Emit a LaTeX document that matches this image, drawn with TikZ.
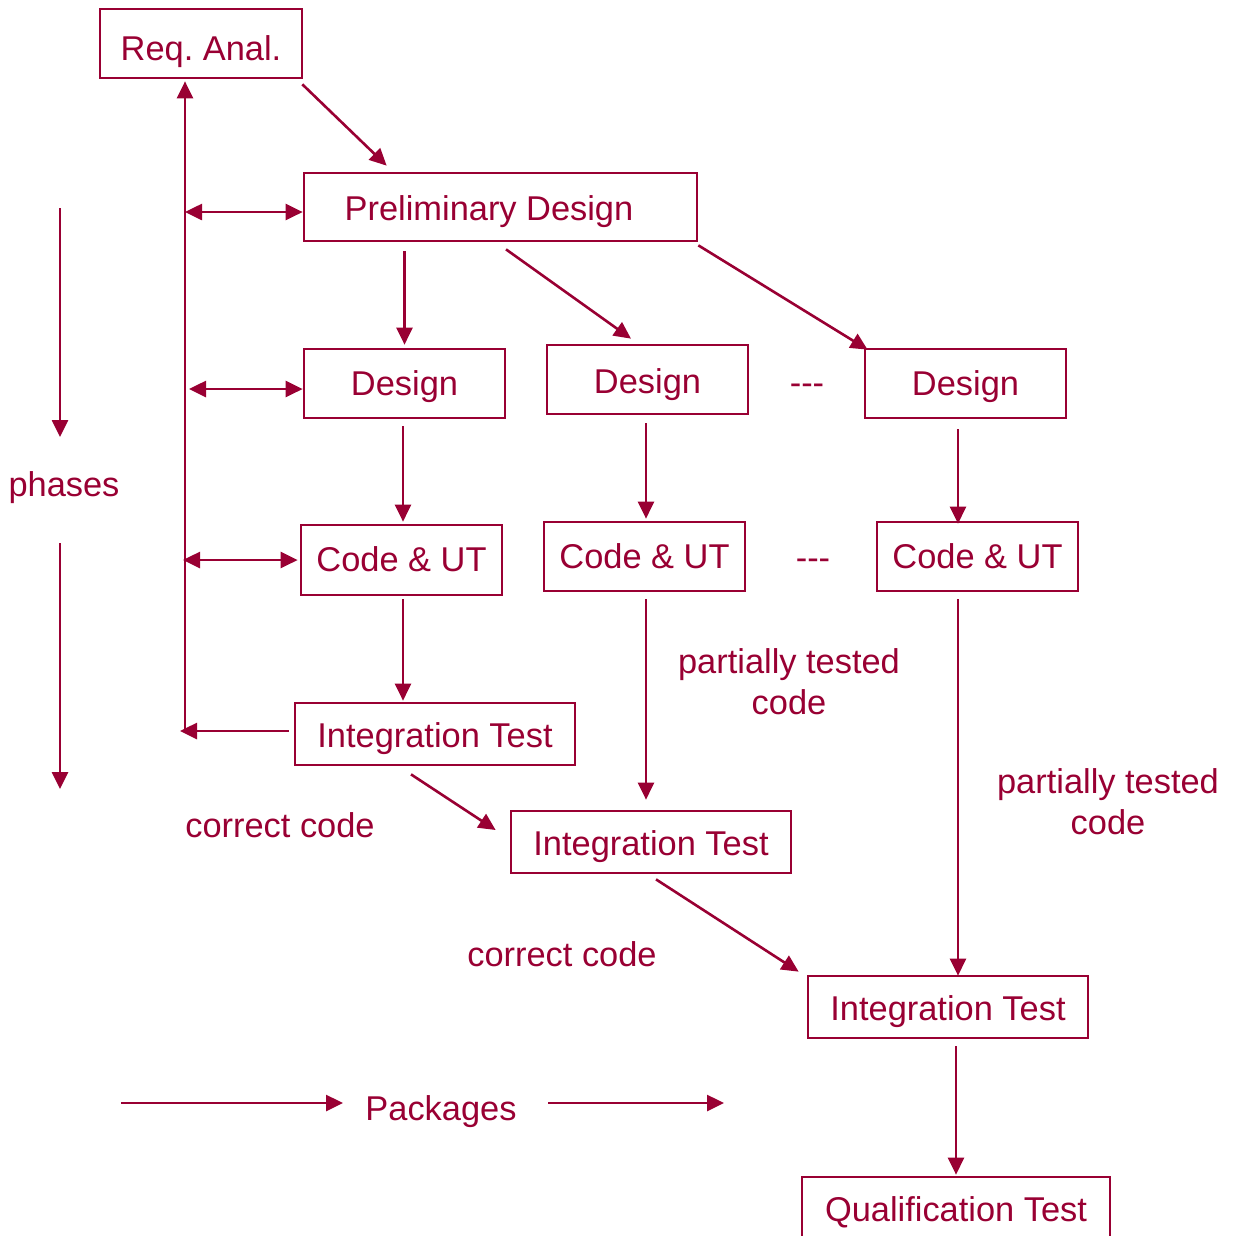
\documentclass[tikz,border=0pt]{standalone}
\usepackage{fontspec}
\setmainfont{Liberation Sans}
\usetikzlibrary{arrows.meta,calc}
\definecolor{wine}{HTML}{990033}
\frenchspacing
\begin{document}
\begin{tikzpicture}[x=1pt,y=-1pt,
  every node/.style={text=wine,font=\fontsize{34.4}{41}\selectfont},
  box/.style={draw=wine,line width=2.7pt,inner sep=0pt,minimum height=69pt,text height=26pt,text depth=0pt},
  tip/.tip={Triangle[length=17pt,width=16pt]},
  arr/.style={draw=wine,line width=2.6pt,-tip},
  darr/.style={draw=wine,line width=2.6pt,tip-tip},
  lbl/.style={inner sep=0pt,align=center}]
\useasboundingbox (0,0) rectangle (1236,1235);
% boxes
\node[box,minimum width=202pt,text height=33pt] (req) at (201,43.5) {Req. Anal.};
\node[box,minimum width=393pt,minimum height=68pt] (prelim) at (500.5,207) {\hspace*{-23pt}Preliminary Design};
\node[box,minimum width=201pt,text height=23pt] (d1) at (404.5,383.5) {Design};
\node[box,minimum width=201pt,text height=27.6pt] (d2) at (647.5,379.5) {Design};
\node[box,minimum width=201pt,text height=24pt] (d3) at (965.5,383.5) {Design};
\node[box,minimum width=201pt,minimum height=70pt,text height=23.5pt] (c1) at (401.5,560) {Code \& UT};
\node[box,minimum width=201pt,text height=23.5pt] (c2) at (644.5,556.5) {Code \& UT};
\node[box,minimum width=201pt,text height=23.5pt] (c3) at (977.5,556.5) {Code \& UT};
\node[box,minimum width=280pt,minimum height=62pt,text height=27pt] (it1) at (435,734) {Integration Test};
\node[box,minimum width=280pt,minimum height=62pt,text height=27pt] (it2) at (651,842) {Integration Test};
\node[box,minimum width=280pt,minimum height=62pt,text height=27pt] (it3) at (948,1007) {Integration Test};
\node[box,minimum width=308pt,minimum height=62pt,text height=27pt] (q) at (956,1208) {Qualification Test};
% labels
\node[lbl] (dash1) at (807,389) {-{}-{}-};
\node[lbl] (dash2) at (813,564) {-{}-{}-};
\node[lbl] (pt1) at (789,682) {partially tested\\code};
\node[lbl] (pt2) at (1108,802) {partially tested\\code};
\node[lbl] (cc1) at (280,825) {correct code};
\node[lbl] (cc2) at (562,954) {correct code};
\node[lbl] (phases) at (64,488) {phases};
\node[lbl] (pkg) at (441,1112) {Packages};
% feedback line
\coordinate (fb) at (185,731);
\draw[arr] (fb) -- ([yshift=-2pt]fb |- req.south);
\draw[arr] ([xshift=-5pt,yshift=3pt]it1.west) -- ([xshift=-5pt]fb);
\draw[darr] ([yshift=-5pt]prelim.west -| fb) -- ([yshift=-5pt]prelim.west);
\draw[darr] ([xshift=4pt,yshift=-5.5pt]d1.west -| fb) -- ([yshift=-5.5pt]d1.west);
\draw[darr] ([xshift=-2pt]c1.west -| fb) -- ([xshift=-2pt]c1.west);
% flow
\draw[arr] ([xshift=-1pt,yshift=-5pt]req.south east) -- ([xshift=84pt,yshift=6pt]prelim.north west);
\draw[arr] ([yshift=-9pt]prelim.south -| d1.north) -- ([yshift=3pt]d1.north);
\draw[arr] ([xshift=5.5pt,yshift=-7pt]prelim.south) -- ([xshift=-16.5pt,yshift=5pt]d2.north);
\draw[arr] ([yshift=-3pt]prelim.south east) -- ([xshift=4pt,yshift=-2pt]d3.north west);
\draw[arr] ([xshift=-1.5pt,yshift=-7pt]d1.south) -- ([xshift=-1.5pt,yshift=2pt]d1.south |- c1.north);
\draw[arr] ([xshift=-1.5pt,yshift=-8pt]d2.south) -- ([xshift=-1.5pt,yshift=2pt]d2.south |- c2.north);
\draw[arr] ([xshift=-7.5pt,yshift=-10pt]d3.south) -- ([xshift=-7.5pt,yshift=-3pt]d3.south |- c3.north);
\draw[arr] ([xshift=1.5pt,yshift=-3pt]c1.south) -- ([xshift=1.5pt,yshift=1pt]c1.south |- it1.north);
\draw[arr] ([xshift=1.5pt,yshift=-7pt]c2.south) -- ([xshift=1.5pt,yshift=10pt]c2.south |- it2.north);
\draw[arr] ([xshift=-19.5pt,yshift=-7pt]c3.south) -- ([xshift=-19.5pt,yshift=-1pt]c3.south |- it3.north);
\draw[arr] ([xshift=-24pt,yshift=-8pt]it1.south) -- ([xshift=-14pt,yshift=12pt]it2.west);
\draw[arr] ([xshift=5pt,yshift=-5pt]it2.south) -- ([xshift=-8pt,yshift=3pt]it3.north west);
\draw[arr] ([xshift=8pt,yshift=-7pt]it3.south) -- ([xshift=8pt,yshift=1pt]it3.south |- q.north);
% phases / packages
\coordinate (ph1) at (60,208);
\coordinate (ph2) at (60,437);
\coordinate (ph3) at (60,543);
\coordinate (ph4) at (60,789);
\draw[arr] (ph1) -- (ph2);
\draw[arr] (ph3) -- (ph4);
\coordinate (pk1) at (121,1103);
\coordinate (pk2) at (343,1103);
\coordinate (pk3) at (548,1103);
\coordinate (pk4) at (724,1103);
\draw[arr] (pk1) -- (pk2);
\draw[arr] (pk3) -- (pk4);
\end{tikzpicture}
\end{document}
